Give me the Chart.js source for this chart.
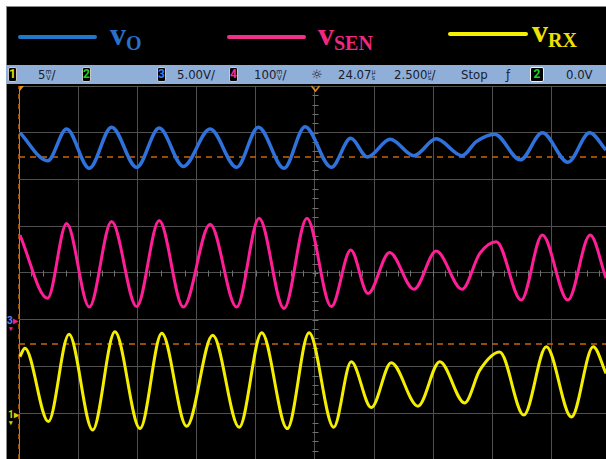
<!DOCTYPE html>
<html>
<head>
<meta charset="utf-8">
<script src="https://cdn.jsdelivr.net/npm/chart.js@4/dist/chart.umd.min.js"></script>
<style>
  html, body { margin: 0; padding: 0; background: #fff; }
  #wrap { position: relative; width: 606px; height: 459px; overflow: hidden; }
  #screen { position: absolute; left: 6px; top: 6px; width: 600px; height: 453px; background: #000;
            border-left: 1px solid #8a8a8a; border-top: 1px solid #8a8a8a; box-sizing: border-box; }
  #chart { position: absolute; left: 0; top: 0; }
  .leg-line { position: absolute; height: 4px; border-radius: 2px; }
  .leg-txt { position: absolute; font-family: "Liberation Serif", "DejaVu Serif", serif; font-weight: bold;
             font-size: 32px; line-height: 32px; white-space: nowrap; }
  .leg-txt span { font-size: 20px; position: relative; top: 5px; }
  #bar { position: absolute; left: 6px; top: 65px; width: 600px; height: 19px; background: #8fafd9; }
  .st { position: absolute; top: 0; height: 19px; line-height: 19px; font-family: "Liberation Sans Narrow", "DejaVu Sans Condensed", Roboto, sans-serif;
        font-size: 13px; color: #18202e; white-space: nowrap; }
  .chip { position: absolute; top: 2px; width: 9px; height: 15px; background: #000; border: 1px solid #c8c8c8; border-radius: 2px;
          box-sizing: border-box; font: bold 12px/13px Roboto, sans-serif; text-align: center; }
  .u { display: inline-block; font-size: 7px; line-height: 6px; vertical-align: -1px; text-align: center; }
  .gnd { position: absolute; font: bold 10px/10px Roboto, sans-serif; white-space: nowrap; }
</style>
</head>
<body>
<div id="wrap">
  <div id="screen"></div>

  <div class="leg-line" style="left:18px; top:35px; width:79px; background:#1f78c8;"></div>
  <div class="leg-txt" style="left:110px; top:18px; color:#2a6fc9;">v<span>O</span></div>
  <div class="leg-line" style="left:227px; top:35px; width:79px; background:#f0308a;"></div>
  <div class="leg-txt" style="left:318px; top:18px; color:#f0287f;">v<span>SEN</span></div>
  <div class="leg-line" style="left:448px; top:32px; width:80px; background:#f5f000;"></div>
  <div class="leg-txt" style="left:532px; top:15px; color:#eee000;">v<span>RX</span></div>

  <div id="bar">
    <div class="chip" style="left:2px; color:#e8e000;">1</div>
    <div class="st" style="left:32px;">5<span class="u">m<br>V</span>/</div>
    <div class="chip" style="left:76px; color:#20d020;">2</div>
    <div class="chip" style="left:151px; color:#3a7ef0;">3</div>
    <div class="st" style="left:171px;">5.00V/</div>
    <div class="chip" style="left:223px; color:#ff2a9a;">4</div>
    <div class="st" style="left:248px;">100<span class="u">m<br>V</span>/</div>
    <div class="st" style="left:305px; font-family:'DejaVu Sans'; font-size:13px;">☼</div>
    <div class="st" style="left:332px;">24.07<span class="u">µ<br>s</span></div>
    <div class="st" style="left:388px;">2.500<span class="u">µ<br>s</span>/</div>
    <div class="st" style="left:455px;">Stop</div>
    <div class="st" style="left:500px;">ƒ</div>
    <div class="chip" style="left:524px; width:14px; border-color:#f0f0f0; color:#20d020;">2</div>
    <div class="st" style="left:560px;">0.0V</div>
  </div>

  <div class="gnd" style="left:7px; top:316px; color:#5a86f0;">3<span style="color:#f0208a;">▸</span></div>
  <div class="gnd" style="left:9px; top:324px; color:#f0208a; font-size:7px;">▾</div>
  <div class="gnd" style="left:8px; top:410px; color:#d8d000;">1▸</div>
  <div class="gnd" style="left:9px; top:418px; color:#d8d000; font-size:7px;">▾</div>

  <canvas id="chart" width="606" height="459"></canvas>
</div>

<script>
// Time axis: microseconds (2.5 us/div), screen centre = 0
// Levels: screen divisions, centre line = 0

// vO (blue, channel 3)
var voTime  = [-12.46, -11.29, -10.49, -9.53, -8.59, -7.53, -6.58, -5.56, -4.43, -3.31, -2.39, -1.31, -0.42,
               0.69, 1.51, 2.21, 3.18, 4.18, 5.12, 6.21, 6.81, 7.59, 8.67, 9.60, 10.68, 11.60, 12.29];
var voLevel = [3.00, 2.40, 3.08, 2.24, 3.12, 2.26, 3.10, 2.28, 3.08, 2.26, 3.12, 2.24, 3.13,
               2.26, 2.88, 2.48, 2.86, 2.51, 2.87, 2.51, 2.81, 2.97, 2.42, 3.00, 2.37, 3.00, 2.63];

// vSEN (pink, channel 4)
var vsenTime  = [-12.46, -11.29, -10.49, -9.53, -8.59, -7.53, -6.58, -5.56, -4.43, -3.31, -2.36, -1.31, -0.34,
                 0.69, 1.51, 2.24, 3.15, 4.18, 5.12, 6.21, 6.96, 7.66, 8.71, 9.60, 10.68, 11.62, 12.29];
var vsenLevel = [0.81, -0.54, 1.06, -0.73, 1.10, -0.72, 1.12, -0.73, 1.04, -0.73, 1.17, -0.76, 1.17,
                 -0.72, 0.49, -0.44, 0.44, -0.35, 0.47, -0.35, 0.42, 0.67, -0.58, 0.81, -0.58, 0.81, -0.11];

// vRX (yellow, channel 1)
var vrxTime  = [-12.46, -12.25, -11.26, -10.39, -9.39, -8.45, -7.39, -6.47, -5.42, -4.32, -3.20, -2.25, -1.17, -0.25,
                0.79, 1.53, 2.38, 3.22, 4.35, 5.27, 6.32, 6.96, 7.80, 8.82, 9.77, 10.83, 11.75, 12.29];
var vrxLevel = [-1.79, -1.61, -3.18, -1.31, -3.36, -1.26, -3.33, -1.29, -3.28, -1.33, -3.30, -1.28, -3.33, -1.28,
                -3.30, -1.90, -2.88, -1.92, -2.85, -1.90, -2.78, -2.08, -1.69, -3.04, -1.58, -3.08, -1.58, -2.15];

// cursors (orange dashed)
var cursorLevels = [2.48, -1.52];

// grid
var timeTicks  = [-12.5, -10, -7.5, -5, -2.5, 0, 2.5, 5, 7.5, 10];
var levelTicks = [-3, -2, -1, 0, 1, 2, 3, 4];
var tMin = -12.5, tMax = 12.29, lMin = -3.98, lMax = 4.0;

function toPoints(xs, ys) {
	return xs.map(function (x, i) { return { x: x, y: ys[i] }; });
}

function trace(data, color, width) {
	return {
		data: data,
		borderColor: color,
		borderWidth: width,
		pointRadius: 0,
		cubicInterpolationMode: 'monotone',
		order: 0
	};
}

var datasets = [
	trace(toPoints(voTime, voLevel), '#2f72dc', 3.5),
	trace(toPoints(vsenTime, vsenLevel), '#ff1e96', 3),
	trace(toPoints(vrxTime, vrxLevel), '#f4ee00', 3)
];

cursorLevels.forEach(function (lvl) {
	datasets.push({
		data: [{ x: tMin, y: lvl }, { x: tMax, y: lvl }],
		borderColor: '#c8640a',
		borderWidth: 1.5,
		borderDash: [6, 5],
		pointRadius: 0,
		order: 1
	});
});

// left edge time cursor
datasets.push({
	data: [{ x: tMin, y: lMin }, { x: tMin, y: lMax }],
	borderColor: '#c8640a',
	borderWidth: 1.5,
	borderDash: [5, 5],
	pointRadius: 0,
	clip: false,
	order: 1
});

// small ticks on the centre axes + trigger markers
var scopeMarks = {
	id: 'scopeMarks',
	beforeDatasetsDraw: function (chart) {
		var ctx = chart.ctx, x = chart.scales.x, y = chart.scales.y;
		var cx = Math.round(x.getPixelForValue(0)) + 0.5;
		var cy = Math.round(y.getPixelForValue(0)) + 0.5;
		ctx.save();
		ctx.strokeStyle = '#707070';
		ctx.lineWidth = 1;
		ctx.beginPath();
		for (var v = lMin; v <= lMax; v += 0.2) {
			var py = Math.round(y.getPixelForValue(Math.round(v * 5) / 5)) + 0.5;
			ctx.moveTo(cx - 3, py); ctx.lineTo(cx + 3, py);
		}
		for (var t = tMin; t <= tMax; t += 0.5) {
			var px = Math.round(x.getPixelForValue(t)) + 0.5;
			ctx.moveTo(px, cy - 3); ctx.lineTo(px, cy + 3);
		}
		ctx.stroke();

		// trigger marker at top centre
		ctx.strokeStyle = '#e08a1a';
		ctx.lineWidth = 1.5;
		ctx.beginPath();
		ctx.moveTo(cx - 4, chart.chartArea.top);
		ctx.lineTo(cx, chart.chartArea.top + 5);
		ctx.lineTo(cx + 4, chart.chartArea.top);
		ctx.stroke();
		// trigger position marker top left
		ctx.fillStyle = '#f08a1a';
		ctx.beginPath();
		ctx.moveTo(x.left, chart.chartArea.top);
		ctx.lineTo(x.left + 5, chart.chartArea.top);
		ctx.lineTo(x.left, chart.chartArea.top + 6);
		ctx.closePath();
		ctx.fill();
		ctx.restore();
	}
};

var chart = new Chart(document.getElementById('chart').getContext('2d'), {
	type: 'line',
	data: { datasets: datasets },
	options: {
		responsive: false,
		animation: false,
		devicePixelRatio: 1,
		layout: { padding: { left: 19, top: 86, right: 0, bottom: 0 } },
		plugins: { legend: { display: false }, tooltip: { enabled: false } },
		scales: {
			x: {
				type: 'linear', min: tMin, max: tMax,
				afterBuildTicks: function (s) { s.ticks = timeTicks.map(function (v) { return { value: v }; }); },
				ticks: { display: false },
				border: { display: false },
				grid: {
					drawTicks: false,
					color: function (c) { return c.tick && c.tick.value === tMin ? '#8c8c8c' : '#505050'; }
				}
			},
			y: {
				type: 'linear', min: lMin, max: lMax,
				afterBuildTicks: function (s) { s.ticks = levelTicks.map(function (v) { return { value: v }; }); },
				ticks: { display: false },
				border: { display: false },
				grid: { drawTicks: false, color: '#505050' }
			}
		}
	},
	plugins: [scopeMarks]
});
</script>
</body>
</html>
